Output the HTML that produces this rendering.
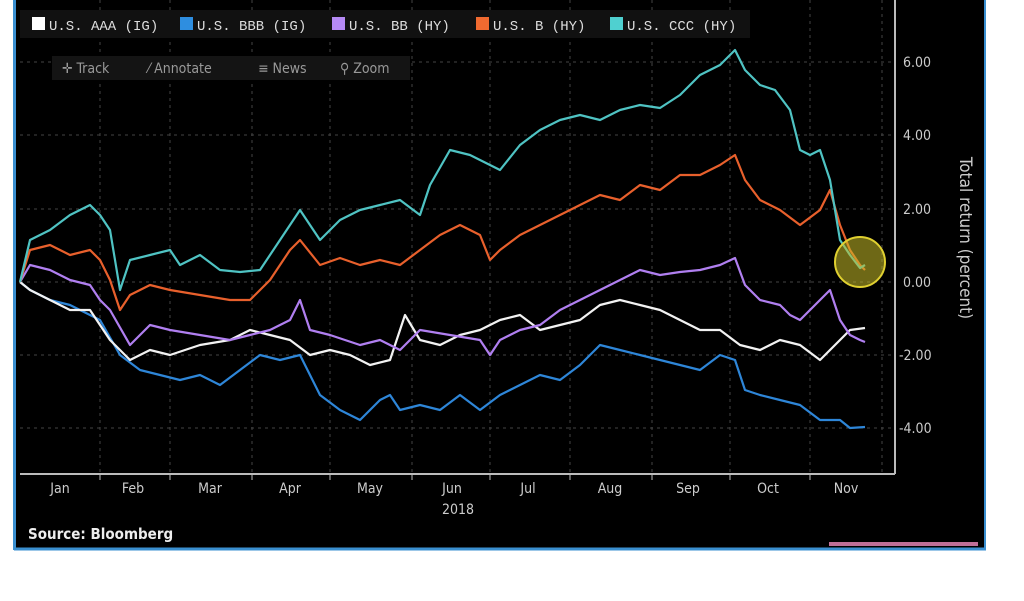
<!DOCTYPE html>
<html><head><style>
body{margin:0;background:#fff;width:1024px;height:601px;overflow:hidden;font-family:"DejaVu Sans Condensed","DejaVu Sans","Liberation Sans",sans-serif}
</style></head><body>
<svg width="1024" height="601" xmlns="http://www.w3.org/2000/svg" style="position:absolute;left:0;top:0">
<rect x="0" y="0" width="1024" height="601" fill="#fff"/>
<rect x="14" y="0" width="971" height="550" fill="#000"/>
<line x1="14.5" y1="0" x2="14.5" y2="550" stroke="#3a8fd0" stroke-width="3"/>
<line x1="14" y1="549" x2="986" y2="549" stroke="#3a8fd0" stroke-width="3"/>
<line x1="985" y1="0" x2="985" y2="550" stroke="#3a8fd0" stroke-width="2"/>
<rect x="829" y="542" width="149" height="4" fill="#c07098"/>
<g stroke="#444" stroke-dasharray="3,4" stroke-width="1">
<line x1="100" y1="0" x2="100" y2="474"/><line x1="170" y1="0" x2="170" y2="474"/><line x1="252" y1="0" x2="252" y2="474"/><line x1="330" y1="0" x2="330" y2="474"/><line x1="412" y1="0" x2="412" y2="474"/><line x1="490" y1="0" x2="490" y2="474"/><line x1="570" y1="0" x2="570" y2="474"/><line x1="652" y1="0" x2="652" y2="474"/><line x1="730" y1="0" x2="730" y2="474"/><line x1="810" y1="0" x2="810" y2="474"/><line x1="882" y1="0" x2="882" y2="474"/>
<line x1="20" y1="62" x2="895" y2="62"/><line x1="20" y1="135" x2="895" y2="135"/><line x1="20" y1="209" x2="895" y2="209"/><line x1="20" y1="282" x2="895" y2="282"/><line x1="20" y1="355" x2="895" y2="355"/><line x1="20" y1="428" x2="895" y2="428"/>
</g>
<line x1="20" y1="474" x2="895" y2="474" stroke="#bbb" stroke-width="2"/>
<line x1="895" y1="0" x2="895" y2="474" stroke="#bbb" stroke-width="2"/>
<g stroke="#bbb"><line x1="100" y1="474" x2="100" y2="480"/><line x1="170" y1="474" x2="170" y2="480"/><line x1="252" y1="474" x2="252" y2="480"/><line x1="330" y1="474" x2="330" y2="480"/><line x1="412" y1="474" x2="412" y2="480"/><line x1="490" y1="474" x2="490" y2="480"/><line x1="570" y1="474" x2="570" y2="480"/><line x1="652" y1="474" x2="652" y2="480"/><line x1="730" y1="474" x2="730" y2="480"/><line x1="810" y1="474" x2="810" y2="480"/></g>
<g fill="#ccc" font-size="14" text-anchor="middle">
<text x="60" y="493">Jan</text><text x="133" y="493">Feb</text><text x="210" y="493">Mar</text><text x="290" y="493">Apr</text><text x="370" y="493">May</text><text x="452" y="493">Jun</text><text x="528" y="493">Jul</text><text x="610" y="493">Aug</text><text x="688" y="493">Sep</text><text x="768" y="493">Oct</text><text x="846" y="493">Nov</text>
<text x="458" y="514">2018</text></g>
<text x="28" y="539" fill="#eee" font-size="15" font-weight="bold">Source: Bloomberg</text>
<g fill="#ccc" font-size="14"><text x="903" y="67">6.00</text><text x="903" y="140">4.00</text><text x="903" y="214">2.00</text><text x="903" y="287">0.00</text><text x="899" y="360">-2.00</text><text x="899" y="433">-4.00</text></g>
<text transform="translate(960,238) rotate(90)" fill="#ccc" font-size="17" text-anchor="middle">Total return (percent)</text>
<rect x="20" y="10" width="730" height="28" fill="#111"/>
<g font-size="14" fill="#ddd" font-family="Liberation Mono, monospace">
<rect x="32" y="17" width="13" height="13" fill="#fff"/><text x="49" y="30">U.S. AAA (IG)</text>
<rect x="180" y="17" width="13" height="13" fill="#2e8ee0"/><text x="197" y="30">U.S. BBB (IG)</text>
<rect x="332" y="17" width="13" height="13" fill="#b58af5"/><text x="349" y="30">U.S. BB (HY)</text>
<rect x="476" y="17" width="13" height="13" fill="#f06a30"/><text x="493" y="30">U.S. B (HY)</text>
<rect x="610" y="17" width="13" height="13" fill="#4fd0d0"/><text x="627" y="30">U.S. CCC (HY)</text>
</g>
<rect x="52" y="56" width="358" height="24" fill="#141414"/>
<g font-size="14" fill="#999"><text x="62" y="73">✛ Track</text><text x="148" y="73">⁄ Annotate</text><text x="258" y="73">≡ News</text><text x="340" y="73">⚲ Zoom</text></g>
<g fill="none" stroke-width="2.2" stroke-linejoin="round">
<polyline stroke="#2e86d8" points="20,282 30,290 50,300 70,305 100,320 120,355 140,370 160,375 180,380 200,375 220,385 240,370 260,355 280,360 300,355 320,395 340,410 360,420 380,400 390,395 400,410 420,405 440,410 460,395 480,410 500,395 520,385 540,375 560,380 580,365 600,345 620,350 640,355 660,360 680,365 700,370 720,355 735,360 745,390 760,395 780,400 800,405 820,420 840,420 850,428 865,427"/>
<polyline stroke="#f2f2f2" points="20,282 30,290 50,300 70,310 90,310 100,325 110,340 130,360 150,350 170,355 200,345 230,340 250,330 270,335 290,340 310,355 330,350 350,355 370,365 390,360 405,315 420,340 440,345 460,335 480,330 500,320 520,315 540,330 560,325 580,320 600,305 620,300 640,305 660,310 680,320 700,330 720,330 740,345 760,350 780,340 800,345 820,360 835,345 850,330 865,328"/>
<polyline stroke="#b07ff0" points="20,282 30,265 50,270 70,280 90,285 100,300 110,310 130,345 150,325 170,330 200,335 230,340 250,335 270,330 290,320 300,300 310,330 330,335 360,345 380,340 400,350 420,330 450,335 480,340 490,355 500,340 520,330 540,325 560,310 580,300 600,290 620,280 640,270 660,275 680,272 700,270 720,265 735,258 745,285 760,300 780,305 790,315 800,320 820,300 830,290 840,320 850,335 860,340 865,342"/>
<polyline stroke="#e8602c" points="20,282 30,250 50,245 70,255 90,250 100,260 110,280 120,310 130,295 150,285 170,290 200,295 230,300 250,300 270,280 290,250 300,240 320,265 340,258 360,265 380,260 400,265 420,250 440,235 460,225 480,235 490,260 500,250 520,235 540,225 560,215 580,205 600,195 620,200 640,185 660,190 680,175 700,175 720,165 735,155 745,180 760,200 780,210 800,225 820,210 830,190 840,225 850,250 860,265 865,270"/>
<polyline stroke="#4fc3c3" points="20,282 30,240 50,230 70,215 90,205 100,215 110,230 120,290 130,260 150,255 170,250 180,265 200,255 220,270 240,272 260,270 280,240 300,210 320,240 340,220 360,210 380,205 400,200 420,215 430,185 450,150 470,155 490,165 500,170 520,145 540,130 560,120 580,115 600,120 620,110 640,105 660,108 680,95 700,75 720,65 735,50 745,70 760,85 775,90 790,110 800,150 810,155 820,150 830,180 840,240 850,255 860,268 865,265"/>
</g>
<circle cx="860" cy="262" r="25" fill="rgba(200,190,40,0.55)" stroke="#e0d030" stroke-width="2"/>
</svg>
</body></html>
